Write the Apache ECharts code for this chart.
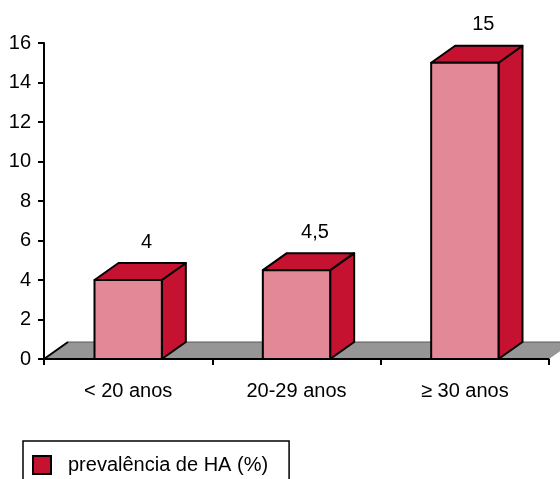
<!DOCTYPE html>
<html>
<head>
<meta charset="utf-8">
<script src="https://cdn.jsdelivr.net/npm/echarts@6/dist/echarts.min.js"></script>
<style>
  html, body { margin: 0; padding: 0; background: #fff; }
  #chart { width: 560px; height: 479px; }
</style>
</head>
<body>
<div id="chart"></div>
<script>
// Age groups and hypertension prevalence (%)
const categories = ['< 20 anos', '20-29 anos', '≥ 30 anos'];
const prevalence = [4, 4.5, 15];
const seriesName = 'prevalência de HA (%)';
const yMin = 0, yMax = 16, yStep = 2;

// Styling for the pseudo-3D boxes
const FRONT = '#E38896';
const DARK = '#C41230';
const FLOOR = '#969696';
const DX = 24, DY = -17;          // depth offset of the 3D extrusion
const FONT_SIZE = 20;
const FONT_FAMILY = 'Arial, "Liberation Sans", sans-serif';
const FONT = FONT_SIZE + 'px ' + FONT_FAMILY;
const EDGE_W = 2;

function fmt(v) { return String(v).replace('.', ','); }

// Gray floor plane under the bars, spanning the whole x axis
function renderFloor(params, api) {
  const cs = params.coordSys;
  const y0 = api.coord([0, 0])[1];
  const x0 = cs.x, x1 = cs.x + cs.width;
  return {
    type: 'group',
    children: [
      { type: 'polygon', shape: { points: [[x0, y0], [x1, y0], [x1 + DX, y0 + DY], [x0 + DX, y0 + DY]] },
        style: { fill: FLOOR } },
      { type: 'line', shape: { x1: x0 + DX, y1: y0 + DY, x2: x1 + DX, y2: y0 + DY },
        style: { stroke: '#5a5a5a', lineWidth: 1 } },
      { type: 'line', shape: { x1: x0, y1: y0, x2: x0 + DX, y2: y0 + DY },
        style: { stroke: '#000', lineWidth: EDGE_W } },
      { type: 'line', shape: { x1: x0, y1: y0, x2: x1, y2: y0 },
        style: { stroke: '#000', lineWidth: EDGE_W } }
    ]
  };
}

// One extruded box per category with its value label above
function renderBar(params, api) {
  const i = api.value(0), v = api.value(1);
  const top = api.coord([i, v]);
  const base = api.coord([i, 0]);
  const w = api.size([1, 0])[0] * 0.4;
  const xl = top[0] - w / 2, xr = top[0] + w / 2;
  const yt = top[1], yb = base[1];
  const edge = { stroke: '#000', lineWidth: EDGE_W, lineJoin: 'round' };
  return {
    type: 'group',
    children: [
      { type: 'polygon', shape: { points: [[xr, yb], [xr + DX, yb + DY], [xr + DX, yt + DY], [xr, yt]] },
        style: Object.assign({ fill: DARK }, edge) },
      { type: 'polygon', shape: { points: [[xl, yt], [xr, yt], [xr + DX, yt + DY], [xl + DX, yt + DY]] },
        style: Object.assign({ fill: DARK }, edge) },
      { type: 'rect', shape: { x: xl, y: yt, width: w, height: yb - yt },
        style: Object.assign({ fill: FRONT }, edge) },
      { type: 'text', x: top[0] + 18.5, y: yt - 38,
        style: { text: fmt(v), fill: '#000', font: FONT, align: 'center', verticalAlign: 'middle' } }
    ]
  };
}

const chart = echarts.init(document.getElementById('chart'), null, { renderer: 'canvas' });
chart.setOption({
  animation: false,
  backgroundColor: '#fff',
  grid: { left: 44, right: 11, top: 43, bottom: 120 },
  legend: {
    data: [seriesName],
    left: 23, top: 441,
    padding: [14, 21, 40, 9],
    borderColor: '#000', borderWidth: 1.5,
    itemWidth: 18, itemHeight: 18,
    icon: 'rect',
    itemStyle: { color: DARK, borderColor: '#000', borderWidth: 2 },
    textStyle: { color: '#000', fontSize: FONT_SIZE, fontFamily: FONT_FAMILY, padding: [0, 0, 0, 12] },
    selectedMode: false
  },
  xAxis: {
    type: 'category',
    data: categories,
    boundaryGap: true,
    axisLine: { show: true, lineStyle: { color: '#000', width: EDGE_W } },
    axisTick: { show: true, length: 6, interval: 0, lineStyle: { color: '#000', width: EDGE_W } },
    axisLabel: { margin: 22, color: '#000', fontSize: FONT_SIZE, fontFamily: FONT_FAMILY, interval: 0 },
    splitLine: { show: false }
  },
  yAxis: {
    type: 'value',
    min: yMin, max: yMax, interval: yStep,
    axisLine: { show: true, lineStyle: { color: '#000', width: EDGE_W } },
    axisTick: { show: true, length: 6, lineStyle: { color: '#000', width: EDGE_W } },
    axisLabel: { margin: 13, color: '#000', fontSize: FONT_SIZE, fontFamily: FONT_FAMILY },
    splitLine: { show: false }
  },
  series: [
    {
      type: 'custom',
      silent: true,
      renderItem: renderFloor,
      data: [[0, 0]],
      z: 1
    },
    {
      type: 'custom',
      name: seriesName,
      silent: true,
      renderItem: renderBar,
      itemStyle: { color: DARK, borderColor: '#000', borderWidth: EDGE_W },
      data: prevalence.map((v, i) => [i, v]),
      encode: { x: 0, y: 1 },
      z: 3
    }
  ]
});
</script>
</body>
</html>
